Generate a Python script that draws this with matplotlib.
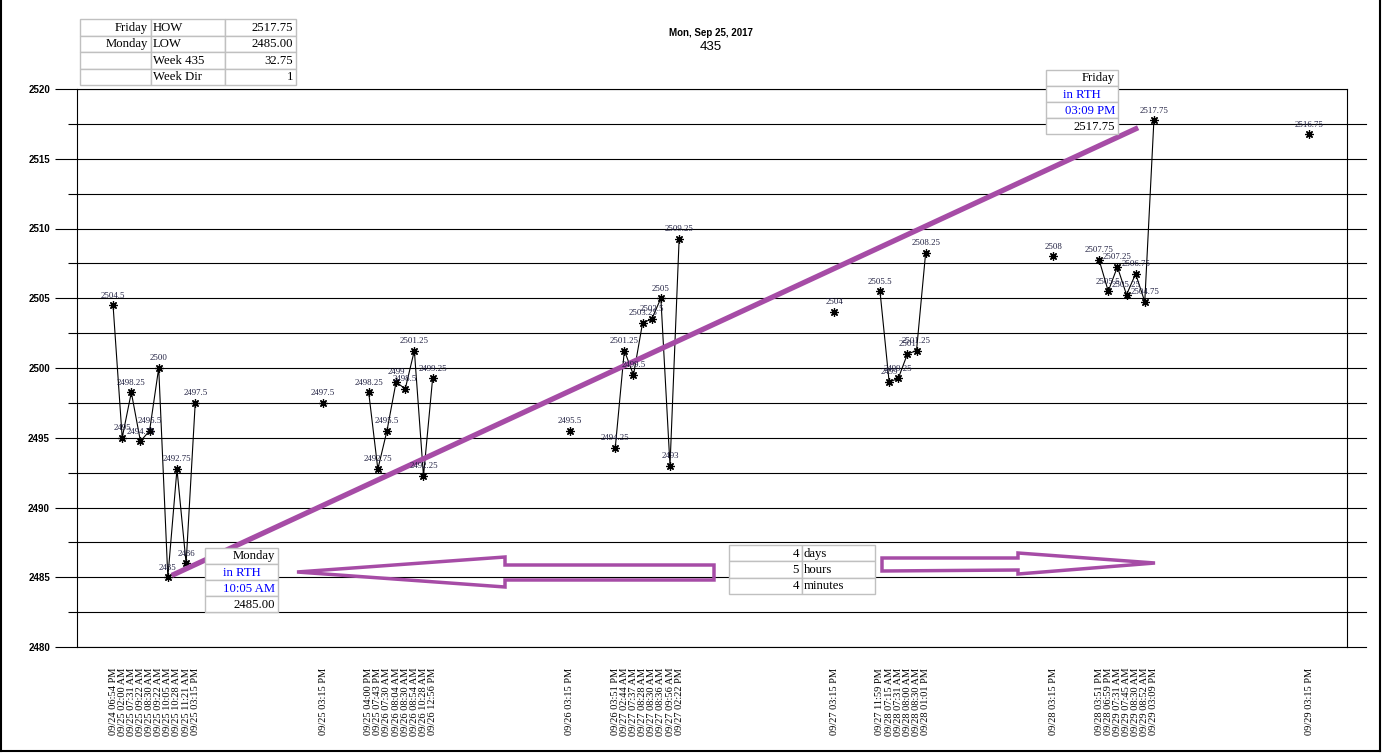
import numpy as np
import matplotlib.pyplot as plt
from matplotlib.patches import Rectangle, Polygon
from matplotlib.lines import Line2D
import matplotlib.transforms as mtransforms

W, H = 1382, 754
SERIF = "Liberation Serif"
SANS = "Liberation Sans"
PURPLE = "#a64ca6"

# ---- data: intraday swing points, one group per session ----
grp1_labels = ["09/24 06:54 PM", "09/25 02:00 AM", "09/25 07:31 AM", "09/25 09:22 AM",
               "09/25 08:30 AM", "09/25 09:22 AM", "09/25 10:05 AM", "09/25 10:28 AM",
               "09/25 11:21 AM", "09/25 03:15 PM"]
grp1_values = [2504.5, 2495, 2498.25, 2494.75, 2495.5, 2500, 2485, 2492.75, 2486, 2497.5]

grp2_labels = ["09/25 04:00 PM", "09/25 07:43 PM", "09/26 07:30 AM", "09/26 08:04 AM",
               "09/26 08:30 AM", "09/26 08:54 AM", "09/26 10:28 AM", "09/26 12:56 PM"]
grp2_values = [2498.25, 2492.75, 2495.5, 2499, 2498.5, 2501.25, 2492.25, 2499.25]

grp3_labels = ["09/26 03:51 PM", "09/27 02:44 AM", "09/27 07:37 AM", "09/27 08:28 AM",
               "09/27 08:30 AM", "09/27 08:36 AM", "09/27 09:56 AM", "09/27 02:22 PM"]
grp3_values = [2494.25, 2501.25, 2499.5, 2503.25, 2503.5, 2505, 2493, 2509.25]

grp4_labels = ["09/27 11:59 PM", "09/28 07:15 AM", "09/28 07:31 AM", "09/28 08:00 AM",
               "09/28 08:30 AM", "09/28 01:01 PM"]
grp4_values = [2505.5, 2499, 2499.25, 2501, 2501.25, 2508.25]

grp5_labels = ["09/28 03:51 PM", "09/28 06:59 PM", "09/29 07:31 AM", "09/29 07:45 AM",
               "09/29 08:30 AM", "09/29 08:52 AM", "09/29 03:09 PM"]
grp5_values = [2507.75, 2505.5, 2507.25, 2505.25, 2506.75, 2504.75, 2517.75]

# daily settlement points (not connected)
settle_labels = ["09/25 03:15 PM", "09/26 03:15 PM", "09/27 03:15 PM",
                 "09/28 03:15 PM", "09/29 03:15 PM"]
settle_values = [2497.5, 2495.5, 2504, 2508, 2516.75]

# blank categories on the category axis before each block
# order: grp1, settle1, grp2, settle2, grp3, settle3, grp4, settle4, grp5, settle5
blank_before = [0, 13, 4, 14, 4, 16, 4, 13, 4, 16]

title_date = "Mon, Sep 25, 2017"
title_week = "435"

summary_rows = [["Friday", "HOW", "2517.75"],
                ["Monday", "LOW", "2485.00"],
                ["", "Week 435", "32.75"],
                ["", "Week Dir", "1"]]
friday_rows = ["Friday", "in RTH", "03:09 PM", "2517.75"]
monday_rows = ["Monday", "in RTH", "10:05 AM", "2485.00"]
duration_rows = [["4", "days"], ["5", "hours"], ["4", "minutes"]]

# ---- build category positions ----
blocks = []
groups = [grp1_labels, grp2_labels, grp3_labels, grp4_labels, grp5_labels]
gvals = [grp1_values, grp2_values, grp3_values, grp4_values, grp5_values]
for i in range(5):
    blocks.append((groups[i], gvals[i], True))
    blocks.append(([settle_labels[i]], [settle_values[i]], False))

pos = 0
tick_pos, tick_lab = [], []
series = []
for (labs, vals, connected), gap in zip(blocks, blank_before):
    pos += gap
    xs = list(range(pos, pos + len(labs)))
    pos += len(labs)
    tick_pos += xs
    tick_lab += labs
    series.append((xs, vals, connected))


def px(x, y):
    return x / W, 1 - y / H


fig = plt.figure(figsize=(W / 100, H / 100), dpi=100)
ax_l, ax_r, ax_t, ax_b = 77, 1347, 89, 647
ax = fig.add_axes([ax_l / W, 1 - ax_b / H, (ax_r - ax_l) / W, (ax_b - ax_t) / H])

ax.set_ylim(2480, 2520)
ax.set_xlim(-3.95, 135.15)
ax.set_yticks(np.arange(2480, 2521, 5))
ax.set_yticks(np.arange(2482.5, 2520, 5), minor=True)
ax.grid(True, axis="y", which="both", color="black", lw=0.8)
ax.set_axisbelow(True)
ax.tick_params(axis="y", which="major", direction="out", length=16, width=0.8, pad=3.5,
               labelsize=7)
ax.tick_params(axis="y", which="minor", direction="out", length=6.5, width=0.8)
for t in ax.get_yticklabels():
    t.set_fontfamily(SANS)
    t.set_fontweight("bold")
ax.set_yticklabels([f"{v:g}" for v in np.arange(2480, 2521, 5)])

ax.set_xticks(tick_pos)
ax.set_xticklabels(tick_lab, rotation=90, fontsize=7.5, family=SERIF, va="top")
ax.tick_params(axis="x", length=0, pad=15)
for sp in ax.spines.values():
    sp.set_color("black")
    sp.set_linewidth(0.8)

# gridline stubs to the right of the plot
blend = mtransforms.blended_transform_factory(ax.transAxes, ax.transData)
for v in np.arange(2480, 2520, 2.5):
    ax.add_line(Line2D([1.0, 1.0 + 19 / (ax_r - ax_l)], [v, v], transform=blend,
                       color="black", lw=0.8, clip_on=False))

# series
for xs, vals, connected in series:
    ax.plot(xs, vals, "-" if connected else "none", color="black", lw=0.8,
            marker=(8, 2, 0), ms=6, mew=0.9, zorder=3)
    for x, v in zip(xs, vals):
        ax.annotate(f"{v:g}", (x, v), xytext=(0, 7), textcoords="offset points",
                    ha="center", va="center", fontsize=6.3, family=SERIF,
                    color="#1f1f40", zorder=5)

# low -> high trend line
all_x = [x for xs, _, _ in series for x in xs]
all_v = [v for _, vals, _ in series for v in vals]
lo_i, hi_i = int(np.argmin(all_v)), int(np.argmax(all_v))
x0, y0 = all_x[lo_i], all_v[lo_i]
x1, y1 = all_x[hi_i], all_v[hi_i]
t = np.array([0.004, 0.984])
ax.plot(x0 + t * (x1 - x0), y0 + t * (y1 - y0), color=PURPLE, lw=3.8,
        solid_capstyle="butt", zorder=4)

# title
fig.text(*px(711, 33), title_date, ha="center", va="center", fontsize=7,
         fontweight="bold", family=SANS)
fig.text(*px(711, 47), title_week, ha="center", va="center", fontsize=9.5, family=SANS)


def draw_table(x0, y0, col_w, row_h, rows, aligns, colors):
    for r, row in enumerate(rows):
        cx = x0
        for c, txt in enumerate(row):
            w = col_w[c]
            top = y0 + r * row_h
            fx, fy = px(cx, top + row_h)
            fig.add_artist(Rectangle((fx, fy), w / W, row_h / H, transform=fig.transFigure,
                                     facecolor="white", edgecolor="#c0c0c0", lw=1,
                                     zorder=6))
            a = aligns[c] if isinstance(aligns[c], str) else aligns[c][r]
            if a == "right":
                tx = cx + w - 3
            elif a == "left":
                tx = cx + 2
            else:
                tx = cx + w / 2
            col = colors[r][c] if isinstance(colors[r], list) else colors[r]
            fig.text(*px(tx, top + row_h / 2 + 0.5), txt, ha=a, va="center",
                     fontsize=9.2, family=SERIF, color=col, zorder=7)
            cx += w


draw_table(80, 19, [71, 74, 71], 16.5, summary_rows, ["right", "left", "right"],
           ["black"] * 4)
box_aligns = [["right", "center", "right", "right"]]
draw_table(1046, 70, [72], 16, [[s] for s in friday_rows], box_aligns,
           ["black", "blue", "blue", "black"])
draw_table(205, 548, [73], 16, [[s] for s in monday_rows], box_aligns,
           ["black", "blue", "blue", "black"])
draw_table(729, 545, [73, 73], 16.3, duration_rows, ["right", "left"], ["black"] * 3)

# hollow arrows pointing away from the duration box
left_arrow = [(297, 572), (505, 557), (505, 565), (714, 565), (714, 580),
              (505, 580), (505, 587)]
right_arrow = [(882, 558), (1018, 558), (1018, 553), (1155, 563), (1018, 574),
               (1018, 570), (882, 571)]
for shape in (left_arrow, right_arrow):
    fig.add_artist(Polygon([px(x, y) for x, y in shape], closed=True,
                           transform=fig.transFigure, fill=False,
                           edgecolor=PURPLE, lw=2.5, joinstyle="miter", zorder=6))

# outer frame
for xs_, ys_ in [([1, 1], [0, 751]), ([1, 1380], [751, 751]), ([1380, 1380], [0, 751])]:
    fig.add_artist(Line2D([x / W for x in xs_], [1 - y / H for y in ys_],
                          transform=fig.transFigure, color="black", lw=1.5))

fig.savefig("out.png", dpi=100)
